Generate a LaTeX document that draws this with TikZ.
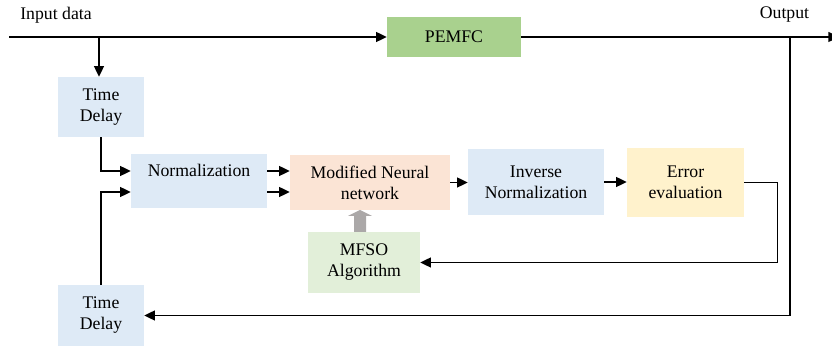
\documentclass[tikz,border=0pt]{standalone}
\usepackage{fontspec}
\setmainfont{Liberation Serif}
\usetikzlibrary{arrows.meta}
\definecolor{blueL}{HTML}{DEEAF6}
\definecolor{greenD}{HTML}{A9D18E}
\definecolor{peach}{HTML}{FBE4D5}
\definecolor{yellowL}{HTML}{FFF2CC}
\definecolor{greenL}{HTML}{E2EFD9}
\definecolor{arrgray}{HTML}{ABA8A8}
\tikzset{
  blk/.style={inner sep=0pt, align=center, font=\fontsize{13.3}{15.75}\selectfont},
  lbl/.style={inner sep=0pt, font=\fontsize{13.3}{15.75}\selectfont},
  conn/.style={line width=1pt, -{Triangle[length=8pt,width=7.5pt]}},
  plain/.style={line width=1pt}
}
\begin{document}
\begin{tikzpicture}[x=0.75pt,y=-0.75pt]
\useasboundingbox (0,0) rectangle (832,348);
\clip (0,0) rectangle (832,348);
% nodes
\node[blk, fill=greenD, minimum width=100.5pt, minimum height=30pt] (pem) at (454,37) {PEMFC};
\node[blk, fill=blueL, minimum width=64.5pt, minimum height=45pt] (td1) at (101,107) {Time\\Delay};
\node[blk, fill=blueL, minimum width=102pt, minimum height=40.5pt] (norm) at (199,181) {Normalization\\\mbox{}};
\node[blk, fill=peach, minimum width=120pt, minimum height=41.25pt] (mnn) at (370,182.5) {Modified Neural\\network};
\node[blk, fill=blueL, minimum width=102pt, minimum height=49.5pt] (inv) at (536,182) {Inverse\\Normalization};
\node[blk, fill=yellowL, minimum width=87.75pt, minimum height=51.75pt] (err) at (685.5,182.5) {Error\\evaluation};
\node[blk, fill=greenL, minimum width=84pt, minimum height=45.75pt] (mfso) at (364,262.5) {MFSO\\Algorithm};
\node[blk, fill=blueL, minimum width=64.5pt, minimum height=45.75pt] (td2) at (101,315.5) {Time\\Delay};
\node[lbl] (inlab) at (56,15) {Input data};
\node[lbl] (outlab) at (784.5,15) {Output};
% coordinates
\coordinate (in) at (9,37);
\coordinate (br) at (99,37);
\coordinate (fb) at (790,37);
\coordinate (out) at (839,37);
% connectors
\draw[conn] (in) -- (pem.west);
\draw[conn] (br) -- (br |- td1.north);
\draw[conn] (pem.east) -- (out);
\draw[conn] (fb) |- (td2.east);
\draw[conn] (td1.south) |- ([yshift=7.5pt]norm.west);
\draw[conn] (td2.north) |- ([yshift=-8.25pt]norm.west);
\draw[conn] ([yshift=7.5pt]norm.east) -- ([yshift=7.5pt]norm.east -| mnn.west);
\draw[conn] ([yshift=-8.25pt]norm.east) -- ([yshift=-8.25pt]norm.east -| mnn.west);
\draw[conn] (mnn.east) -- (mnn.east -| inv.west);
\draw[conn] (inv.east) -- (inv.east -| err.west);
\draw[conn] (err.east) -- ++(33,0) |- (mfso.east);
% gray block arrow MFSO -> MNN
\fill[arrgray] (354,232) -- (354,216) -- (348,216) -- (360,210) -- (372,216) -- (366,216) -- (366,232) -- cycle;
\end{tikzpicture}
\end{document}
